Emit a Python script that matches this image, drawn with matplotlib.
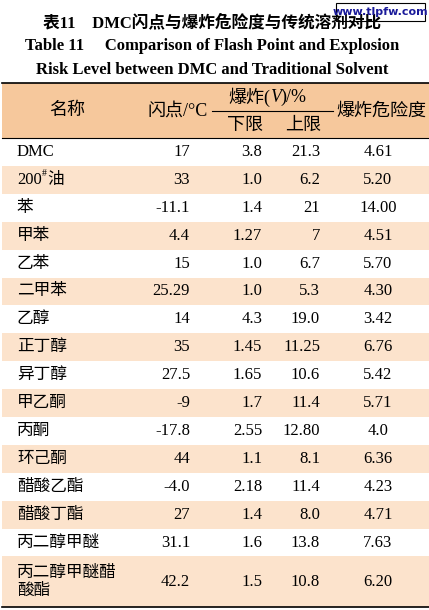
import matplotlib
matplotlib.use("Agg")
import matplotlib.pyplot as plt
from matplotlib.patches import Rectangle

names = ["DMC", "200#油", "苯", "甲苯", "乙苯", "二甲苯", "乙醇", "正丁醇", "异丁醇",
         "甲乙酮", "丙酮", "环己酮", "醋酸乙酯", "醋酸丁酯", "丙二醇甲醚", "丙二醇甲醚醋\n酸酯"]
flash = ["17", "33", "-11.1", "4.4", "15", "25.29", "14", "35", "27.5", "-9", "-17.8",
         "44", "-4.0", "27", "31.1", "42.2"]
lower = ["3.8", "1.0", "1.4", "1.27", "1.0", "1.0", "4.3", "1.45", "1.65", "1.7", "2.55",
         "1.1", "2.18", "1.4", "1.6", "1.5"]
upper = ["21.3", "6.2", "21", "7", "6.7", "5.3", "19.0", "11.25", "10.6", "11.4", "12.80",
         "8.1", "11.4", "8.0", "13.8", "10.8"]
risk = ["4.61", "5.20", "14.00", "4.51", "5.70", "4.30", "3.42", "6.76", "5.42", "5.71",
        "4.0", "6.36", "4.23", "4.71", "7.63", "6.20"]

FONT = ["Liberation Serif", "Noto Sans CJK SC"]
HEAD_BG = "#F6C89C"
ALT_BG = "#FCE3CC"

fig = plt.figure(figsize=(4.29, 6.10), dpi=100)
ax = fig.add_axes([0, 0, 1, 1])
ax.set_xlim(0, 429)
ax.set_ylim(610, 0)
ax.axis("off")

def txt(x, y, s, ha="left", size=11.5, weight="normal", style="normal"):
    ax.text(x, y, s, ha=ha, va="center", fontsize=size, family=FONT,
            weight=weight, style=style)

# titles
txt(212, 23, "表11　DMC闪点与爆炸危险度与传统溶剂对比", ha="center", size=12, weight="bold")
txt(212, 46, "Table 11　 Comparison of Flash Point and Explosion", ha="center", size=12, weight="bold")
txt(212, 70, "Risk Level between DMC and Traditional Solvent", ha="center", size=12, weight="bold")
ax.add_patch(Rectangle((336, 3), 89, 18, facecolor="white", edgecolor="black", lw=0.8))
ax.text(380, 12, "www.tlpfw.com", ha="center", va="center", fontsize=8,
        color="#1a1a9a", weight="bold", family="DejaVu Sans")

# header
top, head_bot = 83, 138
ax.add_patch(Rectangle((2, top), 427, head_bot - top, facecolor=HEAD_BG, lw=0))
ax.plot([2, 429], [top, top], color="black", lw=1.2)
ax.plot([2, 429], [head_bot, head_bot], color="black", lw=0.8)
ax.plot([212, 333], [111, 111], color="black", lw=0.8)
txt(67, 111, "名称", ha="center", size=13)
txt(178, 111, "闪点/°C", ha="center", size=13)
txt(270, 97, "爆炸(", ha="right", size=13)
txt(270, 97, "V", ha="left", size=13, style="italic")
txt(280, 97, ")/%", ha="left", size=13)
txt(245, 125, "下限", ha="center", size=13)
txt(303, 125, "上限", ha="center", size=13)
txt(381, 111, "爆炸危险度", ha="center", size=13)

# rows
row_h = 27.9
y = head_bot
for i in range(len(names)):
    h = row_h if i < len(names) - 1 else 607 - y
    if i % 2 == 1:
        ax.add_patch(Rectangle((2, y), 427, h, facecolor=ALT_BG, lw=0))
    c = y + h / 2
    if "#" in names[i]:
        pre, post = names[i].split("#")
        txt(17, c, pre, size=12)
        txt(42, c - 6, "#", size=7)
        txt(47, c, post, size=12)
    else:
        txt(17, c, names[i], size=12)
    txt(190, c, flash[i], ha="right", size=12)
    txt(262, c, lower[i], ha="right", size=12)
    txt(320, c, upper[i], ha="right", size=12)
    txt(378, c, risk[i], ha="center", size=12)
    y += h
ax.plot([2, 429], [y, y], color="black", lw=1.2)

fig.savefig("out.png", dpi=100)
